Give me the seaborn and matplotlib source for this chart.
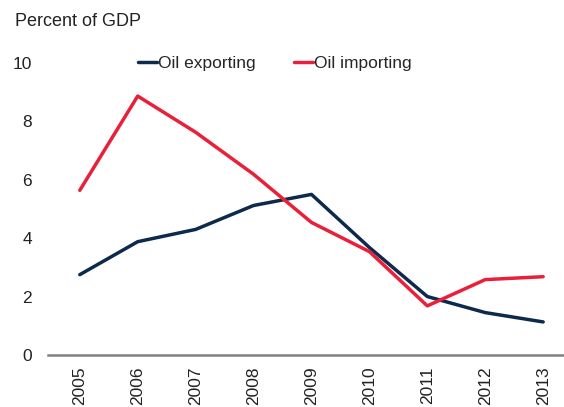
import pandas as pd
import matplotlib
matplotlib.use('Agg')
import matplotlib.pyplot as plt
import seaborn as sns

# Values
years = [2005, 2006, 2007, 2008, 2009, 2010, 2011, 2012, 2013]
oil_exporting = [2.75, 3.88, 4.3, 5.12, 5.5, 3.68, 2.0, 1.45, 1.13]
oil_importing = [5.64, 8.87, 7.63, 6.19, 4.54, 3.54, 1.68, 2.58, 2.68]
y_ticks = [0, 2, 4, 6, 8, 10]

df = pd.DataFrame({'year': years * 2,
                   'value': oil_exporting + oil_importing,
                   'group': ['Oil exporting'] * len(years) + ['Oil importing'] * len(years)})

sns.set_theme(style='white')
plt.rcParams['font.family'] = ['Liberation Sans', 'DejaVu Sans']

fig = plt.figure(figsize=(5.64, 4.07), dpi=100)
ax = fig.add_axes([0.085, 0.128, 0.915, 0.717])

palette = {'Oil exporting': '#0d2a4c', 'Oil importing': '#e8203a'}
sns.lineplot(data=df, x='year', y='value', hue='group', palette=palette,
             linewidth=2.5, ax=ax, legend=False)

ax.set_xlim(2004.45, 2013.36)
ax.set_ylim(0, 10)
ax.set_xticks(years)
ax.set_xticklabels([str(y) for y in years], rotation=90, fontsize=12.5, color='#222222')
ax.set_yticks(y_ticks)
ax.set_yticklabels([str(t) for t in y_ticks], fontsize=12.5, color='#222222')
ax.tick_params(axis='y', length=0, pad=11.5)
ax.tick_params(axis='x', length=0, pad=8)
ax.set_xlabel('')
ax.set_ylabel('')

for s in ['top', 'right', 'left']:
    ax.spines[s].set_visible(False)
ax.spines['bottom'].set_color('#808080')
ax.spines['bottom'].set_linewidth(1.8)

fig.text(15 / 564, 1 - 22 / 407, 'Percent of GDP', fontsize=13,
         color='#222222', va='center', ha='left')

handles = [plt.Line2D([], [], color=palette[k], linewidth=2.5) for k in palette]
fig.legend(handles, list(palette.keys()), loc='center',
           bbox_to_anchor=(275 / 564, 1 - 63 / 407), ncol=2, frameon=False,
           handlelength=1.1, handletextpad=0.05, columnspacing=2.2,
           borderpad=0, prop={'size': 12.5})

fig.savefig('out.png', dpi=100)
